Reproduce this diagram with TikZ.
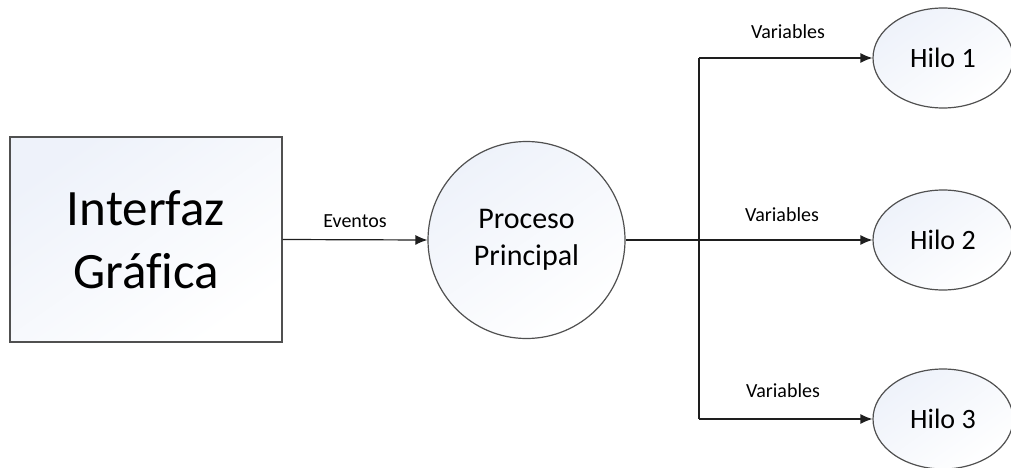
\documentclass[tikz,border=0pt]{standalone}
\usepackage{fontspec}
\setmainfont[Ligatures=NoCommon]{Carlito}
\usetikzlibrary{shapes.geometric,arrows.meta}
\definecolor{edge}{HTML}{505050}
\definecolor{linec}{HTML}{1E1E1E}
\definecolor{tint}{HTML}{EEF2FA}
\tikzset{
  conn/.style={draw=linec, line width=1.2pt},
  arr/.style={conn, -{Latex[length=12pt,width=10pt]}},
  shapeline/.style={draw=edge, line width=1.2pt},
  lbl/.style={font=\fontsize{20}{24}\selectfont, inner sep=0pt},
}
\begin{document}
\begin{tikzpicture}[x=1pt,y=-1pt]
\useasboundingbox (0,0) rectangle (1011,468);
% box
\node[shapeline, rectangle, minimum width=272pt, minimum height=205pt,
  top color=tint, bottom color=white, shading angle=35,
  align=center, font=\fontsize{51}{63}\selectfont] (a) at (146,239.5) {Interfaz\\Gráfica};
% circle
\node[shapeline, circle, minimum size=197pt, inner sep=0pt,
  top color=tint, bottom color=white, shading angle=35,
  align=center, font=\fontsize{30}{37}\selectfont] (p) at (526.5,240) {Proceso\\Principal};
% ellipses
\foreach \n/\y/\t in {h1/58/Hilo 1, h2/240/Hilo 2, h3/419/Hilo 3}{
  \node[shapeline, ellipse, minimum width=140pt, minimum height=100pt, inner sep=0pt,
    top color=tint, bottom color=white, shading angle=35,
    font=\fontsize{28}{32}\selectfont] (\n) at (943,\y) {\t};
}
\coordinate (j) at (699,240);
\coordinate (j1) at (699,58);
\coordinate (j3) at (699,419);
\draw[arr] (a.east) -- (p.west);
\draw[conn] (p.east) -- (j);
\draw[conn] (j1) -- (j3);
\draw[arr] (j1) -- (h1.west);
\draw[arr] (j) -- (h2.west);
\draw[arr] (j3) -- (h3.west);
% labels
\node[lbl] (le) at (355,221) {Eventos};
\node[lbl] (lv1) at (788,32) {Variables};
\node[lbl] (lv2) at (782,215) {Variables};
\node[lbl] (lv3) at (783,391) {Variables};
\end{tikzpicture}
\end{document}
